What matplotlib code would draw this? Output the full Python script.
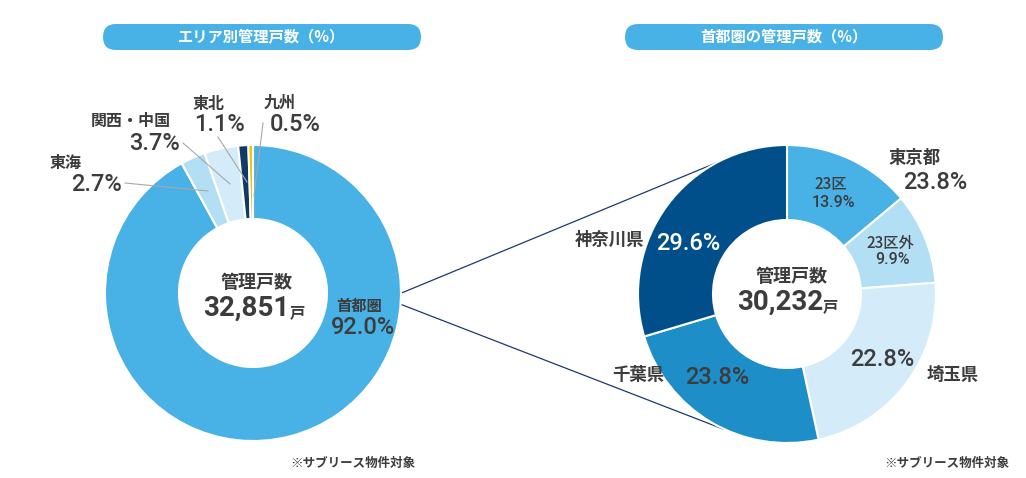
"""Two donut charts: managed units by area and within the capital region."""

import matplotlib
matplotlib.use("Agg")
import matplotlib.pyplot as plt
from matplotlib.patches import FancyBboxPatch

W, H = 1026, 478

area_labels = ["首都圏", "東海", "関西・中国", "東北", "九州"]
area_values = [92.0, 2.7, 3.7, 1.1, 0.5]
area_total = 32851

metro_labels = ["23区", "23区外", "埼玉県", "千葉県", "神奈川県"]
metro_values = [13.9, 9.9, 22.8, 23.8, 29.6]
metro_total = 30232

area_colors = ["#48b1e6", "#b3dff5", "#d4ecf9", "#0d3a66", "#f2c200"]
metro_colors = ["#48b1e6", "#b3dff5", "#d4ecf9", "#1e8ec8", "#004f8a"]

TEXT = "#3c3c3c"
JP = ["Noto Sans CJK JP", "DejaVu Sans"]
NUM = ["Roboto", "Noto Sans CJK JP", "DejaVu Sans"]

plt.rcParams["font.family"] = JP


def Y(y):
    return H - y


def txt(ax, x, y, s, size, fam=JP, color=TEXT, weight="bold", **kw):
    kw.setdefault("ha", "center")
    ax.text(x, Y(y), s, fontsize=size, family=fam, color=color,
            fontweight=weight, va="center", **kw)


def num(ax, x, y, s, size, color=TEXT, weight="medium", **kw):
    txt(ax, x, y, s, size, NUM, color, weight=weight, **kw)


def pct(v):
    return f"{v:.1f}%"


fig = plt.figure(figsize=(W / 100, H / 100), dpi=100)
ax = fig.add_axes([0, 0, 1, 1])

# connector lines from the capital region slice to the right donut
for end in [(740, 153), (723, 429)]:
    ax.plot([387, end[0]], [Y(299), Y(end[1])], color="#1d3a6e", lw=0.9, zorder=1)

ax.pie(area_values, colors=area_colors, startangle=90, counterclock=False,
       center=(253, Y(293)), radius=148,
       wedgeprops=dict(width=74, edgecolor="white", linewidth=1.5))
ax.pie(metro_values, colors=metro_colors, startangle=90, counterclock=False,
       center=(787, Y(294)), radius=149,
       wedgeprops=dict(width=75, edgecolor="white", linewidth=1.5))

# title bars
for x0, title in [(103, "エリア別管理戸数（%）"), (625, "首都圏の管理戸数（%）")]:
    ax.add_patch(FancyBboxPatch((x0, Y(50)), 318, 26,
                                boxstyle="round,pad=0,rounding_size=13",
                                fc="#48b1e6", ec="none"))
    txt(ax, x0 + 159, 37, title, 11, color="white")

# left donut labels
leader = "#a8a8a8"
for (x1, y1), (x2, y2) in [((125, 183), (208, 191)), ((183, 143), (230, 184)),
                           ((218, 137), (247, 182)), ((263, 123), (254, 196))]:
    ax.plot([x1, x2], [Y(y1), Y(y2)], color=leader, lw=0.8)

txt(ax, 66, 163, area_labels[1], 11.5)
num(ax, 96, 184, pct(area_values[1]), 17)
txt(ax, 131, 121, area_labels[2], 11.5)
num(ax, 155, 143, pct(area_values[2]), 17)
txt(ax, 209, 104, area_labels[3], 11.5)
num(ax, 220, 124, pct(area_values[3]), 17)
txt(ax, 280, 103, area_labels[4], 11.5)
num(ax, 295, 124, pct(area_values[4]), 17)
txt(ax, 359, 306, area_labels[0], 11)
num(ax, 363, 328, pct(area_values[0]), 17)

txt(ax, 257, 282, "管理戸数", 13)
num(ax, 290, 308, f"{area_total:,}", 20, weight="bold", ha="right")
txt(ax, 290, 312, "戸", 11, ha="left")

# right donut labels
txt(ax, 915, 158, "東京都", 12.5)
num(ax, 935, 182, pct(metro_values[0] + metro_values[1]), 17)
txt(ax, 831, 184, metro_labels[0], 11, weight="medium")
num(ax, 833, 202, pct(metro_values[0]), 11.5)
txt(ax, 890, 243, metro_labels[1], 11, weight="medium")
num(ax, 892, 259, pct(metro_values[1]), 11.5)
num(ax, 882, 360, pct(metro_values[2]), 17)
txt(ax, 953, 375, metro_labels[2], 12.5)
txt(ax, 638, 375, metro_labels[3], 12.5)
num(ax, 717, 377, pct(metro_values[3]), 17)
txt(ax, 610, 240, metro_labels[4], 12.5)
num(ax, 688, 243, pct(metro_values[4]), 17, color="white")

txt(ax, 792, 277, "管理戸数", 13)
num(ax, 823, 302, f"{metro_total:,}", 20, weight="bold", ha="right")
txt(ax, 823, 306, "戸", 11, ha="left")

# footnotes
txt(ax, 353, 463, "※サブリース物件対象", 9)
txt(ax, 947, 463, "※サブリース物件対象", 9)

ax.set_xlim(0, W)
ax.set_ylim(0, H)
ax.set_aspect("equal")
ax.axis("off")

fig.savefig("out.png", dpi=100)
